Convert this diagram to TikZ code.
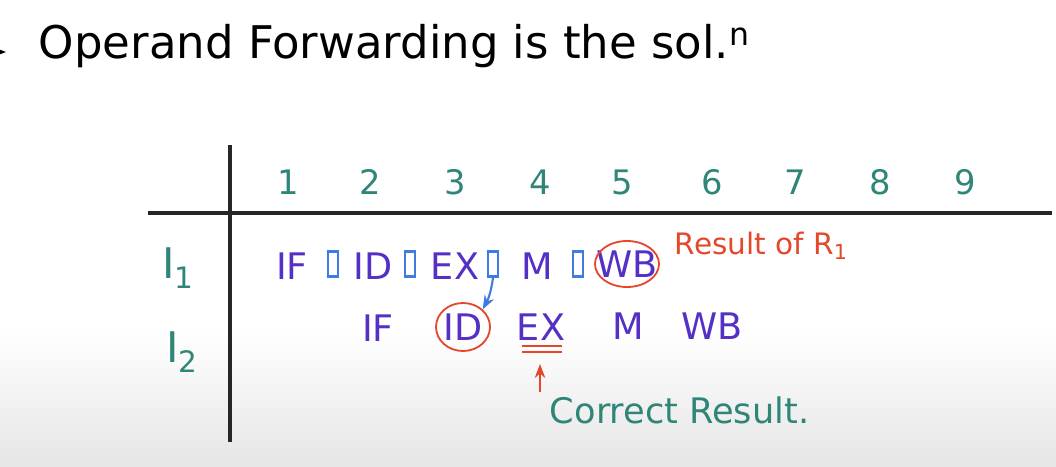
\documentclass[tikz,border=0pt]{standalone}
\usepackage{fontspec}
\setmainfont{DejaVu Sans}
\usetikzlibrary{arrows.meta,positioning,shapes.geometric}

\definecolor{tealink}{HTML}{2F8577}
\definecolor{purpink}{HTML}{5530C4}
\definecolor{blueink}{HTML}{3F7BE0}
\definecolor{redink}{HTML}{E5472D}

\begin{document}
\begin{tikzpicture}[
  x=0.025cm, y=-0.025cm,
  num/.style={text=tealink, font=\fontsize{24}{26}\selectfont},
  rowlbl/.style={text=tealink, font=\fontsize{30}{32}\selectfont},
  stage/.style={text=purpink, font=\fontsize{26}{28}\selectfont, inner sep=1pt},
  latch/.style={draw=blueink, line width=1.8pt, minimum width=0.25cm,
                minimum height=0.62cm, inner sep=0pt},
  ring/.style={draw=redink, line width=1.3pt, ellipse, inner sep=0pt},
  grid/.style={line width=2.2pt, black!85},
  arr/.style={-{Stealth[length=3.5mm]}, line width=1.5pt}
]
\useasboundingbox (0,0) rectangle (1056,466);
\shade[top color=white, bottom color=black!10] (0,330) rectangle (1056,466);

% heading
\draw[arr, black] (-40,52) -- (6,52);
\node[anchor=west, font=\fontsize{32}{34}\selectfont] (title) at (34,46)
  {Operand Forwarding is the sol.\textsuperscript{n}};

% table lines
\coordinate (vtop) at (230,145);
\coordinate (vbot) at (230,442);
\coordinate (hleft) at (148,213);
\coordinate (hright) at (1052,213);
\draw[grid] (vtop) -- (vbot);
\draw[grid] (hleft) -- (hright);

% clock cycles
\foreach \n/\x in {1/288,2/370,3/455,4/540,5/622,6/712,7/795,8/880,9/965}
  \node[num] (c\n) at (\x,182) {\n};

% instructions
\node[rowlbl] (i1) at (178,268) {I\textsubscript{1}};
\node[rowlbl] (i2) at (182,352) {I\textsubscript{2}};

% I1 stages with buffers
\node[stage] (if1) at (292,266) {IF};
\node[latch] (l1) at (333,264) {};
\node[stage] (id1) at (373,266) {ID};
\node[latch] (l2) at (410,264) {};
\node[stage] (ex1) at (455,266) {EX};
\node[latch] (l3) at (493,264) {};
\node[stage] (m1) at (537,266) {M};
\node[latch] (l4) at (578,264) {};
\node[stage] (wb1) at (627,264) {WB};
\node[ring, minimum width=1.6cm, minimum height=1.15cm] (wbring) at (627,264) {};
\node[text=redink, font=\fontsize{21}{23}\selectfont, anchor=west] (res) at (670,246)
  {Result of R\textsubscript{1}};

% I2 stages
\node[stage] (if2) at (378,328) {IF};
\node[stage] (id2) at (463,327) {ID};
\node[ring, minimum width=1.35cm, minimum height=1.2cm] (idring) at (463,327) {};
\node[stage] (ex2) at (541,327) {EX};
\node[stage] (m2) at (628,326) {M};
\node[stage] (wb2) at (712,326) {WB};
\coordinate (ul1a) at (522,346);
\coordinate (ul1b) at (562,346);
\coordinate (ul2a) at (522,352);
\coordinate (ul2b) at (562,352);
\draw[redink, line width=1.3pt] (ul1a) -- (ul1b);
\draw[redink, line width=1.3pt] (ul2a) -- (ul2b);

% forwarding
\draw[arr, blueink] (l3.south) to[bend left=10] (idring.north east);
\node[text=tealink, font=\fontsize{25}{27}\selectfont, anchor=west] (ok) at (545,410)
  {Correct Result.};
\coordinate (upfoot) at (540,392);
\coordinate (uptip) at (540,364);
\draw[arr, redink] (upfoot) -- (uptip);
\end{tikzpicture}
\end{document}
